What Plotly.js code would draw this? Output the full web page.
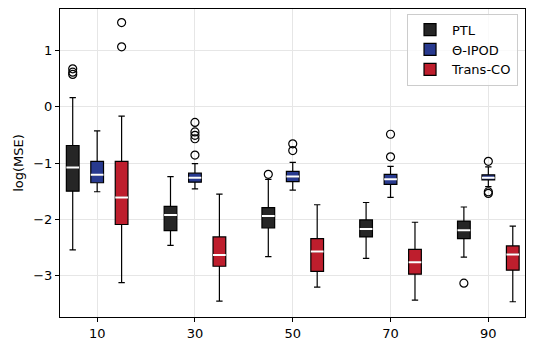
<!DOCTYPE html>
<html>
<head>
<meta charset="utf-8">
<script src="https://cdn.plot.ly/plotly-3.0.1.min.js"></script>
<style>body{margin:0;background:#fff}#plot{width:534px;height:351px}</style>
</head>
<body>
<div id="plot"></div>
<script>
// group positions on the x axis
var groups = [10, 30, 50, 70, 90];

// PTL
var ptlQ1  = [-1.50, -2.20, -2.15, -2.31, -2.34];
var ptlMed = [-1.08, -1.92, -1.94, -2.17, -2.19];
var ptlQ3  = [-0.69, -1.77, -1.79, -2.01, -2.03];
var ptlLo  = [-2.54, -2.46, -2.66, -2.69, -2.67];
var ptlHi  = [0.16, -1.24, -1.29, -1.70, -1.78];
var ptlOutX = [10, 10, 10, 50, 90];
var ptlOutY = [0.67, 0.61, 0.57, -1.20, -3.13];

// Θ-IPOD
var ipodQ1  = [-1.35, -1.34, -1.33, -1.38, -1.30];
var ipodMed = [-1.21, -1.26, -1.24, -1.29, -1.26];
var ipodQ3  = [-0.97, -1.18, -1.15, -1.20, -1.21];
var ipodLo  = [-1.51, -1.46, -1.48, -1.61, -1.42];
var ipodHi  = [-0.43, -1.01, -0.99, -1.06, -1.07];
var ipodOutX = [30, 30, 30, 30, 30, 50, 50, 70, 70, 90, 90, 90];
var ipodOutY = [-0.28, -0.45, -0.51, -0.57, -0.86, -0.66, -0.78, -0.49, -0.89, -0.97, -1.51, -1.54];

// Trans-CO
var tcQ1  = [-2.09, -2.83, -2.92, -2.97, -2.90];
var tcMed = [-1.61, -2.63, -2.57, -2.76, -2.62];
var tcQ3  = [-0.97, -2.31, -2.34, -2.53, -2.47];
var tcLo  = [-3.12, -3.45, -3.20, -3.43, -3.46];
var tcHi  = [-0.17, -1.55, -1.74, -2.05, -2.12];
var tcOutX = [10, 10];
var tcOutY = [1.49, 1.06];

var boxW = 2.6;
function shift(arr, d) { return arr.map(function (v) { return v + d; }); }

function boxTrace(name, off, q1, med, q3, lo, hi, color) {
  return {
    type: 'box', name: name, x: shift(groups, off),
    q1: q1, median: med, q3: q3, lowerfence: lo, upperfence: hi,
    width: boxW, whiskerwidth: 0.5,
    fillcolor: color, line: {color: '#000', width: 1.2},
    hoverinfo: 'skip', boxpoints: false
  };
}
function medTrace(off, med) {
  return {
    type: 'box', x: shift(groups, off),
    q1: med, median: med, q3: med, lowerfence: med, upperfence: med,
    width: boxW, whiskerwidth: 0, fillcolor: 'rgba(0,0,0,0)',
    line: {color: '#fff', width: 2}, showlegend: false, hoverinfo: 'skip'
  };
}
function outTrace(off, xs, ys) {
  return {
    type: 'scatter', mode: 'markers', x: shift(xs, off), y: ys,
    marker: {symbol: 'circle-open', size: 8, color: '#000', line: {width: 1.2}},
    showlegend: false, hoverinfo: 'skip'
  };
}

var data = [
  boxTrace('PTL', -5, ptlQ1, ptlMed, ptlQ3, ptlLo, ptlHi, '#262626'),
  boxTrace('\u0398-IPOD', 0, ipodQ1, ipodMed, ipodQ3, ipodLo, ipodHi, '#283a8f'),
  boxTrace('Trans-CO', 5, tcQ1, tcMed, tcQ3, tcLo, tcHi, '#be1e2d'),
  medTrace(-5, ptlMed), medTrace(0, ipodMed), medTrace(5, tcMed),
  outTrace(-5, ptlOutX, ptlOutY), outTrace(0, ipodOutX, ipodOutY), outTrace(5, tcOutX, tcOutY)
];

var layout = {
  width: 534, height: 351,
  margin: {l: 60, r: 9, t: 9, b: 34},
  paper_bgcolor: '#fff', plot_bgcolor: '#fff',
  font: {family: 'DejaVu Sans', size: 13, color: '#000'},
  boxmode: 'overlay',
  showlegend: true,
  legend: {x: 0.985, y: 0.985, xanchor: 'right', yanchor: 'top',
    bordercolor: '#cccccc', borderwidth: 1, bgcolor: 'rgba(255,255,255,0.8)',
    font: {size: 13}, itemwidth: 34, tracegroupgap: 0},
  xaxis: {
    range: [2.4, 97.5], tickvals: groups, ticktext: groups.map(String),
    showgrid: true, gridcolor: '#e6e6e6', zeroline: false,
    showline: true, linecolor: '#000', linewidth: 1, mirror: true,
    ticks: 'outside', ticklen: 4, tickcolor: '#000'
  },
  yaxis: {
    range: [-3.73, 1.73], tickvals: [-3, -2, -1, 0, 1],
    ticktext: ['\u22123', '\u22122', '\u22121', '0', '1'],
    title: {text: 'log(MSE)', font: {size: 13}, standoff: 6},
    showgrid: true, gridcolor: '#e6e6e6', zeroline: false,
    showline: true, linecolor: '#000', linewidth: 1, mirror: true,
    ticks: 'outside', ticklen: 4, tickcolor: '#000'
  }
};

Plotly.newPlot('plot', data, layout, {displayModeBar: false, staticPlot: true});
</script>
</body>
</html>
